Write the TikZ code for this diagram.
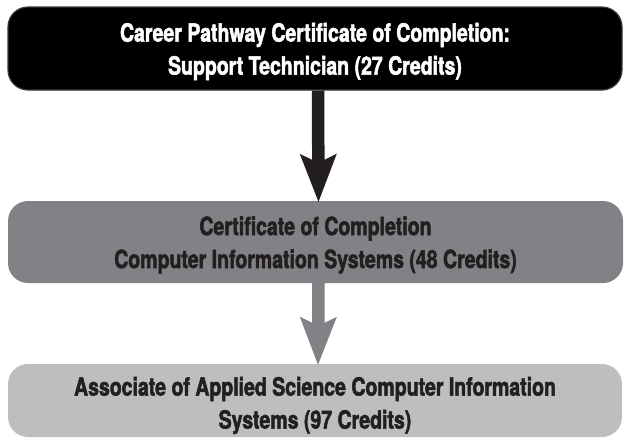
\documentclass[tikz,border=0pt]{standalone}
\usepackage{fontspec}
\newfontfamily\lab[FakeStretch=0.78, BoldFeatures={FakeBold=2}]{TeX Gyre Heros}
\usetikzlibrary{arrows.meta}
\definecolor{boxdark}{HTML}{000000}
\definecolor{boxedge}{HTML}{3A3839}
\definecolor{boxmid}{HTML}{808285}
\definecolor{boxlight}{HTML}{BCBEC0}
\definecolor{inkdark}{HTML}{231F20}
\begin{document}
\begin{tikzpicture}[x=1pt,y=-1pt,
  stagebox/.style={rectangle, rounded corners=20pt, inner sep=0pt},
  stagetext/.style={inner sep=0pt, align=center,
    font=\lab\bfseries\fontsize{25}{33}\selectfont},
  bigarrow/.style={line width=12.5pt,
    -{Stealth[length=48pt,width=37pt,inset=9pt,line width=0pt]}}
]
\useasboundingbox (0,0) rectangle (624,447);
\node[stagebox, fill=boxdark, draw=boxedge, line width=1.2pt,
  minimum width=614pt, minimum height=83pt] (top) at (315,48.5) {};
\node[stagebox, fill=boxmid,
  minimum width=615pt, minimum height=82pt] (mid) at (315.5,242) {};
\node[stagebox, fill=boxlight,
  minimum width=614pt, minimum height=73pt] (bot) at (315,400.5) {};
\node[stagetext, text=white] (toptext) at ([yshift=-3pt]top.center)
  {Career Pathway Certificate of Completion:\\Support Technician (27 Credits)};
\node[stagetext, text=inkdark] (midtext) at ([yshift=-3pt]mid.center)
  {Certificate of Completion\\Computer Information Systems (48 Credits)};
\node[stagetext, text=inkdark] (bottext) at ([yshift=-5pt]bot.center)
  {Associate of Applied Science Computer Information\\Systems (97 Credits)};
\draw[bigarrow, draw=inkdark, fill=inkdark] ([xshift=3pt]top.south) -- ([xshift=3pt,yshift=-1pt]mid.north);
\draw[bigarrow, draw=boxmid, fill=boxmid] ([xshift=3pt]mid.south) -- ([xshift=3pt,yshift=-1pt]bot.north);
\end{tikzpicture}
\end{document}
